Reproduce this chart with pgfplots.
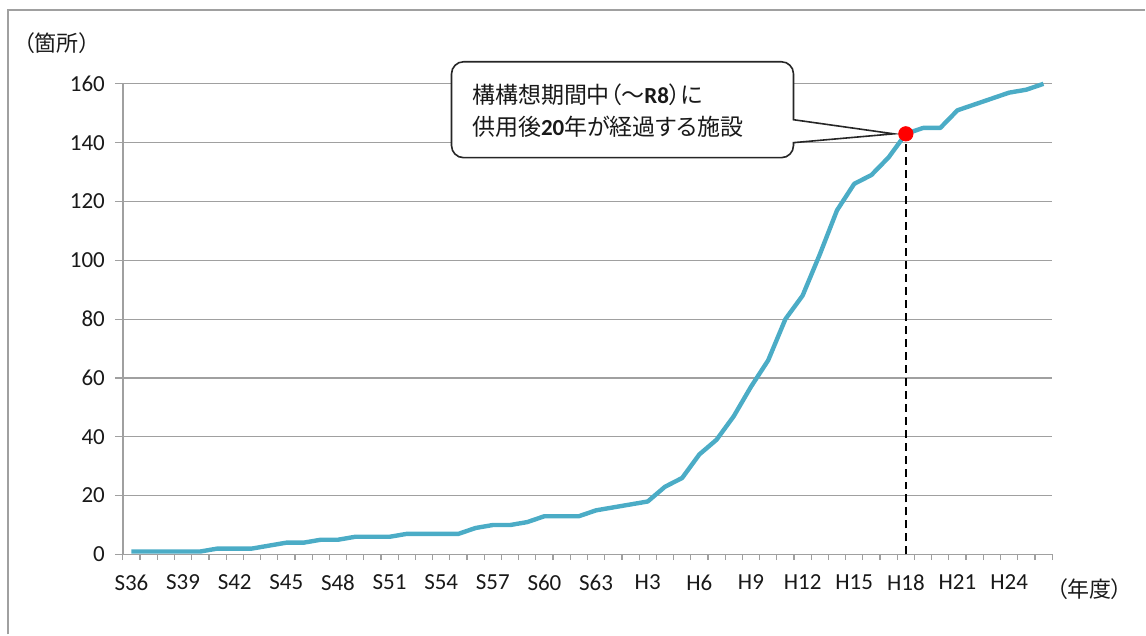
\documentclass[border=0pt]{standalone}
\usepackage{fontspec}
\setmainfont{Carlito}
\newfontfamily\jp[RawFeature=+palt]{Noto Sans CJK JP}
\usepackage{pgfplots}
\pgfplotsset{compat=1.18}

\definecolor{lineblue}{RGB}{75,172,198}
\definecolor{gridgray}{RGB}{160,160,160}
\definecolor{txt}{RGB}{25,25,25}

\begin{document}
\begin{tikzpicture}
\begin{axis}[
  scale only axis,
  width=465pt, height=235.5pt,
  xmin=-0.5, xmax=53.5,
  ymin=0, ymax=160,
  axis x line*=bottom,
  axis y line*=left,
  axis line style={draw=gridgray, line width=0.7pt},
  xtick={0,3,...,51},
  xticklabels={S36,S39,S42,S45,S48,S51,S54,S57,S60,S63,H3,H6,H9,H12,H15,H18,H21,H24},
  minor xtick={-0.5,0.5,...,53.5},
  major x tick style={draw=none},
  minor tick length=2.8pt,
  ytick={0,20,...,160},
  major tick length=4pt,
  tick align=outside,
  tick style={draw=gridgray, line width=0.6pt},
  ymajorgrids,
  grid style={draw=gridgray, line width=0.6pt},
  ticklabel style={font=\fontsize{11.5}{13}\selectfont, text=txt},
  xticklabel style={yshift=-2.5pt},
  yticklabel style={xshift=-1.5pt},
  /pgf/number format/assume math mode=true,
  clip=false,
]
% invisible page extent and outer frame
\path (axis cs:-7.64,-27.17) rectangle (axis cs:58.91,188.5);
\draw[gridgray, line width=0.8pt] (axis cs:-7.18,-27.17) |- (axis cs:58.91,185.1);

\addplot[lineblue, line width=2.2pt, line join=round] coordinates {
  (0,1) (1,1) (2,1) (3,1) (4,1) (5,2) (6,2) (7,2) (8,3) (9,4)
  (10,4) (11,5) (12,5) (13,6) (14,6) (15,6) (16,7) (17,7) (18,7) (19,7)
  (20,9) (21,10) (22,10) (23,11) (24,13) (25,13) (26,13) (27,15) (28,16) (29,17)
  (30,18) (31,23) (32,26) (33,34) (34,39) (35,47) (36,57) (37,66) (38,80) (39,88)
  (40,102) (41,117) (42,126) (43,129) (44,135) (45,143) (46,145) (47,145) (48,151) (49,153)
  (50,155) (51,157) (52,158) (53,160)
};
% H18 marker line and dot
\addplot[black, line width=0.9pt, dash pattern=on 4pt off 2.5pt] coordinates {(45,0) (45,143)};
\addplot[only marks, mark=*, mark size=3.6pt, color=red] coordinates {(45,143)};

% callout
\draw[black!85, line width=0.8pt, fill=white, rounded corners=6pt]
  (axis cs:18.6,134.9) -- (axis cs:18.6,167.5) -- (axis cs:38.47,167.5)
  [sharp corners] -- (axis cs:38.47,147.8) -- (axis cs:44.3,143) -- (axis cs:38.47,140)
  [rounded corners=6pt] -- (axis cs:38.47,134.9) -- cycle;
\node[anchor=west, inner sep=0pt, text=txt, font=\jp\fontsize{11.5}{13}\selectfont]
  at (axis cs:19.77,156.2) {構構想期間中（〜{\rmfamily\bfseries R8}）に};
\node[anchor=west, inner sep=0pt, text=txt, font=\jp\fontsize{11.5}{13}\selectfont]
  at (axis cs:19.77,145.4) {供用後{\rmfamily\bfseries 20}年が経過する施設};

% unit labels
\node[text=txt, font=\jp\fontsize{11}{13}\selectfont] at (axis cs:-4.33,173.9) {（箇所）};
\node[text=txt, font=\jp\fontsize{11}{13}\selectfont] at (axis cs:55.66,-11.9) {（年度）};
\end{axis}
\end{tikzpicture}
\end{document}
